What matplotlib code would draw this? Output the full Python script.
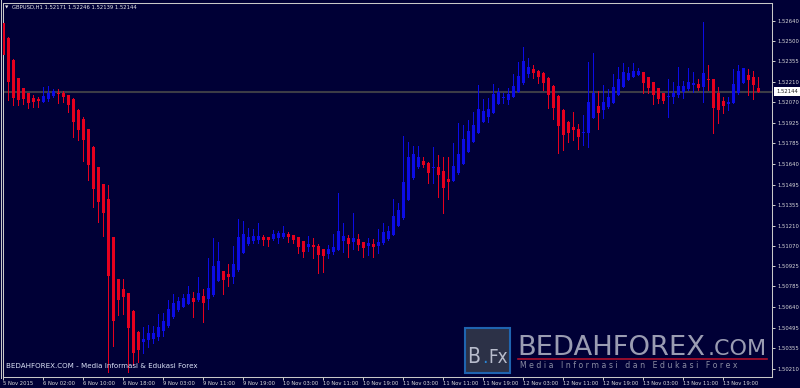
import matplotlib
matplotlib.use("Agg")
import matplotlib.pyplot as plt
import matplotlib.transforms as mtransforms
from matplotlib.patches import Rectangle
from matplotlib.lines import Line2D
import numpy as np

# ---------------- data (GBPUSD H1) ----------------
opens = [1.52624, 1.52517, 1.52365, 1.52237, 1.52168, 1.52133, 1.52098, 1.52091, 1.52074, 1.52091,
         1.52114, 1.52137, 1.52133, 1.52121, 1.52091, 1.52016, 1.51951, 1.51884, 1.51760, 1.51616,
         1.51500, 1.51395, 1.51128, 1.50835, 1.50767, 1.50737, 1.50613, 1.50469, 1.50399, 1.50411,
         1.50421, 1.50434, 1.50474, 1.50509, 1.50569, 1.50617, 1.50641, 1.50664, 1.50702, 1.50690,
         1.50718, 1.50695, 1.50725, 1.50825, 1.50892, 1.50869, 1.50853, 1.50899, 1.51016, 1.51079,
         1.51104, 1.51109, 1.51132, 1.51128, 1.51114, 1.51121, 1.51128, 1.51151, 1.51144, 1.51128,
         1.51102, 1.51058, 1.51074, 1.51067, 1.51044, 1.51009, 1.51027, 1.51039, 1.51104, 1.51125,
         1.51097, 1.51114, 1.51093, 1.51069, 1.51079, 1.51069, 1.51086, 1.51114, 1.51144, 1.51207,
         1.51260, 1.51388, 1.51540, 1.51616, 1.51660, 1.51648, 1.51611, 1.51620, 1.51590, 1.51533,
         1.51523, 1.51574, 1.51639, 1.51725, 1.51795, 1.51854, 1.51935, 1.51965, 1.51997, 1.52056,
         1.52098, 1.52086, 1.52105, 1.52144, 1.52203, 1.52268, 1.52300, 1.52291, 1.52272, 1.52242,
         1.52184, 1.52114, 1.52014, 1.51929, 1.51895, 1.51887, 1.51854, 1.51858, 1.51958, 1.52044,
         1.52016, 1.52035, 1.52067, 1.52121, 1.52175, 1.52226, 1.52249, 1.52261, 1.52279, 1.52244,
         1.52210, 1.52168, 1.52133, 1.52105, 1.52105, 1.52121, 1.52144, 1.52163, 1.52191, 1.52198,
         1.52179, 1.52233, 1.52231, 1.52133, 1.52079, 1.52058, 1.52067, 1.52133, 1.52207, 1.52261,
         1.52249, 1.52171]
highs = [1.52637, 1.52526, 1.52372, 1.52240, 1.52172, 1.52135, 1.52121, 1.52109, 1.52175, 1.52184,
         1.52161, 1.52161, 1.52149, 1.52124, 1.52097, 1.52020, 1.51965, 1.51887, 1.51765, 1.51618,
         1.51503, 1.51493, 1.51130, 1.50837, 1.50835, 1.50739, 1.50617, 1.50474, 1.50502, 1.50516,
         1.50509, 1.50592, 1.50599, 1.50690, 1.50732, 1.50711, 1.50732, 1.50788, 1.50746, 1.50848,
         1.50765, 1.50981, 1.51121, 1.51093, 1.50896, 1.50939, 1.51067, 1.51253, 1.51244, 1.51191,
         1.51184, 1.51225, 1.51142, 1.51132, 1.51179, 1.51174, 1.51207, 1.51167, 1.51146, 1.51132,
         1.51104, 1.51137, 1.51125, 1.51079, 1.51046, 1.51074, 1.51151, 1.51435, 1.51225, 1.51144,
         1.51299, 1.51149, 1.51095, 1.51125, 1.51114, 1.51184, 1.51225, 1.51207, 1.51393, 1.51365,
         1.51835, 1.51795, 1.51765, 1.51765, 1.51690, 1.51651, 1.51756, 1.51702, 1.51690, 1.51690,
         1.51788, 1.51923, 1.51912, 1.51946, 1.52004, 1.52191, 1.52091, 1.52098, 1.52198, 1.52168,
         1.52133, 1.52172, 1.52268, 1.52353, 1.52454, 1.52377, 1.52330, 1.52295, 1.52278, 1.52246,
         1.52191, 1.52121, 1.52020, 1.51942, 1.52004, 1.51919, 1.51978, 1.52353, 1.52414, 1.52149,
         1.52194, 1.52161, 1.52270, 1.52316, 1.52346, 1.52318, 1.52346, 1.52311, 1.52281, 1.52246,
         1.52212, 1.52170, 1.52135, 1.52231, 1.52214, 1.52314, 1.52221, 1.52307, 1.52284, 1.52231,
         1.52633, 1.52330, 1.52236, 1.52175, 1.52105, 1.52105, 1.52300, 1.52330, 1.52309, 1.52300,
         1.52288, 1.52246]
lows = [1.52274, 1.52086, 1.52048, 1.52051, 1.52058, 1.52027, 1.52035, 1.52035, 1.52072, 1.52081,
        1.52105, 1.52067, 1.52074, 1.52004, 1.51830, 1.51807, 1.51662, 1.51528, 1.51339, 1.51234,
        1.51139, 1.50187, 1.50372, 1.50585, 1.50592, 1.50190, 1.50236, 1.50259, 1.50318, 1.50364,
        1.50390, 1.50411, 1.50439, 1.50505, 1.50567, 1.50613, 1.50639, 1.50662, 1.50571, 1.50685,
        1.50539, 1.50627, 1.50721, 1.50823, 1.50732, 1.50788, 1.50807, 1.50896, 1.51015, 1.51076,
        1.51086, 1.51090, 1.51074, 1.51069, 1.51109, 1.51086, 1.51126, 1.51093, 1.51086, 1.51020,
        1.50992, 1.51034, 1.50981, 1.50881, 1.50888, 1.50981, 1.51009, 1.51036, 1.51027, 1.50988,
        1.51044, 1.51039, 1.50988, 1.51004, 1.50988, 1.51020, 1.51081, 1.51112, 1.51142, 1.51205,
        1.51259, 1.51386, 1.51538, 1.51609, 1.51620, 1.51505, 1.51509, 1.51411, 1.51295, 1.51393,
        1.51520, 1.51573, 1.51637, 1.51723, 1.51793, 1.51853, 1.51933, 1.51935, 1.51995, 1.52055,
        1.52063, 1.52056, 1.52104, 1.52142, 1.52201, 1.52249, 1.52238, 1.52207, 1.52156, 1.52028,
        1.51951, 1.51714, 1.51737, 1.51795, 1.51807, 1.51742, 1.51772, 1.51760, 1.51957, 1.51884,
        1.51958, 1.52028, 1.52065, 1.52119, 1.52174, 1.52224, 1.52247, 1.52259, 1.52137, 1.52137,
        1.52056, 1.52063, 1.52063, 1.51969, 1.52067, 1.52105, 1.52098, 1.52156, 1.52144, 1.52156,
        1.52074, 1.52156, 1.51854, 1.51923, 1.51997, 1.52016, 1.52065, 1.52131, 1.52205, 1.52121,
        1.52091, 1.52139]
closes = [1.52400, 1.52214, 1.52098, 1.52086, 1.52091, 1.52063, 1.52074, 1.52081, 1.52114, 1.52137,
          1.52149, 1.52128, 1.52109, 1.52051, 1.51935, 1.51877, 1.51807, 1.51632, 1.51465, 1.51376,
          1.51295, 1.50860, 1.50546, 1.50690, 1.50709, 1.50493, 1.50318, 1.50341, 1.50416, 1.50460,
          1.50462, 1.50504, 1.50543, 1.50625, 1.50667, 1.50683, 1.50704, 1.50732, 1.50678, 1.50737,
          1.50667, 1.50772, 1.50927, 1.50962, 1.50830, 1.50848, 1.50941, 1.51128, 1.51151, 1.51128,
          1.51137, 1.51137, 1.51109, 1.51109, 1.51151, 1.51156, 1.51156, 1.51128, 1.51109, 1.51062,
          1.51027, 1.51081, 1.51058, 1.51004, 1.50997, 1.51044, 1.51062, 1.51174, 1.51137, 1.51081,
          1.51121, 1.51074, 1.51051, 1.51086, 1.51062, 1.51097, 1.51167, 1.51174, 1.51276, 1.51318,
          1.51516, 1.51690, 1.51709, 1.51690, 1.51632, 1.51579, 1.51620, 1.51563, 1.51470, 1.51516,
          1.51627, 1.51709, 1.51812, 1.51870, 1.51912, 1.52021, 1.52011, 1.52021, 1.52126, 1.52144,
          1.52105, 1.52128, 1.52184, 1.52254, 1.52358, 1.52318, 1.52277, 1.52249, 1.52203, 1.52121,
          1.52028, 1.51908, 1.51842, 1.51859, 1.51879, 1.51830, 1.51866, 1.52070, 1.52133, 1.51993,
          1.52070, 1.52107, 1.52175, 1.52231, 1.52284, 1.52272, 1.52288, 1.52288, 1.52207, 1.52168,
          1.52121, 1.52091, 1.52081, 1.52114, 1.52133, 1.52184, 1.52184, 1.52214, 1.52207, 1.52172,
          1.52277, 1.52226, 1.52028, 1.52016, 1.52044, 1.52070, 1.52198, 1.52291, 1.52307, 1.52226,
          1.52191, 1.52144]

x_tick_bars = [0, 8, 16, 24, 32, 40, 48, 56, 64, 72, 80, 88, 96, 104, 112, 120, 128, 136, 144]
x_tick_labels = ["5 Nov 2015", "6 Nov 02:00", "6 Nov 10:00", "6 Nov 18:00", "9 Nov 03:00",
                 "9 Nov 11:00", "9 Nov 19:00", "10 Nov 03:00", "10 Nov 11:00", "10 Nov 19:00",
                 "11 Nov 03:00", "11 Nov 11:00", "11 Nov 19:00", "12 Nov 03:00", "12 Nov 11:00",
                 "12 Nov 19:00", "13 Nov 03:00", "13 Nov 11:00", "13 Nov 19:00"]
y_tick_labels = ["1.52640", "1.52500", "1.52355", "1.52210", "1.52070", "1.51925", "1.51785",
                 "1.51640", "1.51495", "1.51355", "1.51210", "1.51070", "1.50925", "1.50785",
                 "1.50640", "1.50495", "1.50355", "1.50210"]
symbol_title = "GBPUSD,H1 1.52171 1.52246 1.52139 1.52144"

# ---------------- style ----------------
BG = "#000036"
UP = "#0c0ce6"
DOWN = "#e6001e"
FRAME = "#c8c8c8"
TXT = "#d8d8d8"
FS = 3.8

W, H = 800, 388
fig = plt.figure(figsize=(W / 100, H / 100), dpi=100, facecolor=BG)
L, R, T, B = 2.7, 772.3, 2.7, 376.7
ax = fig.add_axes([L / W, 1 - B / H, (R - L) / W, (B - T) / H])
ax.set_facecolor(BG)

o = np.array(opens); h = np.array(highs); lo = np.array(lows); c = np.array(closes)
x = np.arange(len(o))
up = c >= o
cols = np.where(up, UP, DOWN)

ax.vlines(x, lo, h, colors=cols, linewidth=0.72, antialiased=False, zorder=2)
bottom = np.minimum(o, c)
height = np.maximum(np.abs(c - o), 0.00007)
ax.bar(x, height, bottom=bottom, width=0.6, color=cols, linewidth=0,
       antialiased=False, zorder=3)

# current price line
ax.axhline(c[-1], color="#3c3c46", linewidth=1.5, zorder=1)

ax.set_xlim(-0.12, 153.8)
ax.set_ylim(1.50155, 1.52765)

for s in ax.spines.values():
    s.set_color(FRAME)
    s.set_linewidth(0.75)

ax.yaxis.tick_right()
ax.set_yticks([float(v) for v in y_tick_labels])
ax.set_yticklabels(y_tick_labels)
ax.set_xticks(x_tick_bars)
ax.set_xticklabels(x_tick_labels)
ax.tick_params(axis="y", direction="out", length=2.2, width=0.72, colors=FRAME,
               labelcolor=TXT, labelsize=FS, pad=1.2)
ax.tick_params(axis="x", direction="out", length=2.2, width=0.72, colors=FRAME,
               labelcolor=TXT, labelsize=FS, pad=0.6)
for lab in ax.get_xticklabels():
    lab.set_ha("left")

# price label box
blend = mtransforms.blended_transform_factory(ax.transAxes, ax.transData)
ax.text(1.0048, c[-1], "%.5f" % c[-1], transform=blend, fontsize=FS, color="#202020",
        va="center", ha="left", clip_on=False, zorder=10,
        bbox=dict(boxstyle="square,pad=0.35", fc="white", ec="none"))

# window border on the left
fig.add_artist(Line2D([0.6 / W, 0.6 / W], [1 - 378 / H, 1], color=FRAME, linewidth=0.75))

# title
fig.text(5 / W, 1 - 7.6 / H, "\u25bc", fontsize=3.2, color="#e8e8e8", va="center", ha="left")
fig.text(12.5 / W, 1 - 7.3 / H, symbol_title, fontsize=FS, color="#e8e8e8",
         va="center", ha="left")

# watermark bottom-left
fig.text(6 / W, 1 - 366 / H, "BEDAHFOREX.COM - Media Informasi & Edukasi Forex",
         fontsize=5.1, color="#dde4f8", va="center", ha="left")

# logo
fig.add_artist(Rectangle((465 / W, 1 - 372.7 / H), 45 / W, 44.4 / H,
                         transform=fig.transFigure, facecolor="#2c3147",
                         edgecolor="#1f64b0", linewidth=1.5))
fig.text(467.5 / W, 1 - 363 / H, "B", fontsize=15, color="#b8bccc", va="baseline",
         ha="left", fontstretch="condensed")
fig.text(482.5 / W, 1 - 363 / H, ".", fontsize=14, color="#2a86d8", va="baseline",
         ha="left", fontstretch="condensed")
fig.text(488 / W, 1 - 363 / H, "Fx", fontsize=13.5, color="#b8bccc", va="baseline",
         ha="left", fontstretch="condensed")
fig.text(517 / W, 1 - 355 / H, "BEDAHFOREX", fontsize=19.7, color="#9a9cb2",
         va="baseline", ha="left")
fig.text(708 / W, 1 - 355 / H, ".COM", fontsize=16, color="#9a9cb2",
         va="baseline", ha="left")
fig.add_artist(Line2D([518 / W, 767 / W], [1 - 359.2 / H] * 2, color="#b0102c",
                      linewidth=1.2))
fig.text(520 / W, 1 - 365 / H,
         "M e d i a   I n f o r m a s i   d a n   E d u k a s i   F o r e x",
         fontsize=5.6, color="#8a8ca2", va="center", ha="left")

fig.savefig("out.png", dpi=100, facecolor=BG)
